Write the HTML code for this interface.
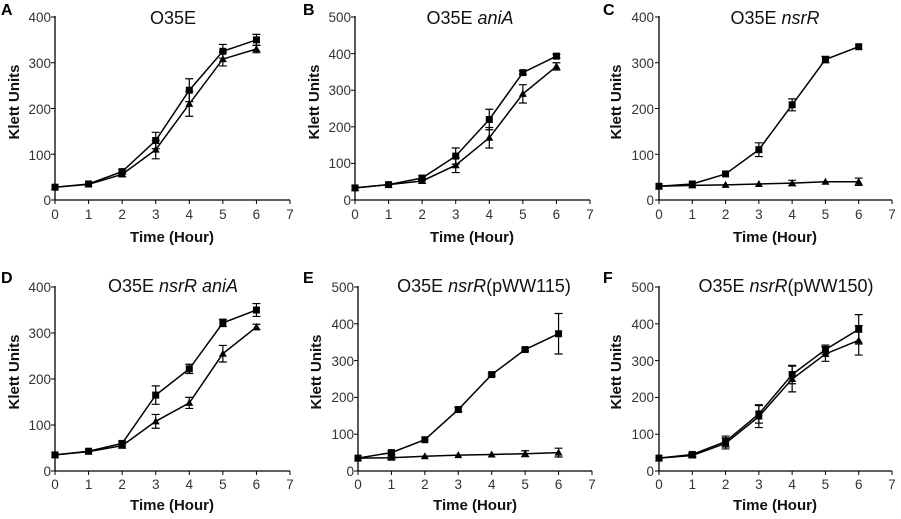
<!DOCTYPE html>
<html><head><meta charset="utf-8"><style>
body{margin:0;background:#fff;}
svg{display:block;font-family:"Liberation Sans",Arial,sans-serif;}
.t{font-size:13.5px;fill:#333;}
.tt{font-size:18px;fill:#111;}
.ax{font-size:15px;font-weight:bold;fill:#111;}
.L{font-size:16px;font-weight:bold;fill:#000;}
</style></head><body>
<svg id="s" width="901" height="519" viewBox="0 0 901 519">
<rect width="901" height="519" fill="#fff"/>
<text class="L" x="1" y="15">A</text>
<text class="L" x="303" y="15">B</text>
<text class="L" x="603" y="15">C</text>
<text class="L" x="1" y="283">D</text>
<text class="L" x="303" y="283">E</text>
<text class="L" x="603" y="283">F</text>
<text class="tt" x="173" y="24" text-anchor="middle">O35E</text>
<text class="tt" x="470" y="24" text-anchor="middle">O35E <tspan font-style="italic">aniA</tspan></text>
<text class="tt" x="775" y="24" text-anchor="middle">O35E <tspan font-style="italic">nsrR</tspan></text>
<text class="tt" x="173" y="292" text-anchor="middle">O35E <tspan font-style="italic">nsrR aniA</tspan></text>
<text class="tt" x="484" y="292" text-anchor="middle">O35E <tspan font-style="italic">nsrR</tspan>(pWW115)</text>
<text class="tt" x="786" y="292" text-anchor="middle">O35E <tspan font-style="italic">nsrR</tspan>(pWW150)</text>
<text class="ax" x="172" y="242" text-anchor="middle">Time (Hour)</text>
<text class="ax" x="472" y="242" text-anchor="middle">Time (Hour)</text>
<text class="ax" x="775" y="242" text-anchor="middle">Time (Hour)</text>
<text class="ax" x="172" y="510" text-anchor="middle">Time (Hour)</text>
<text class="ax" x="475" y="510" text-anchor="middle">Time (Hour)</text>
<text class="ax" x="775" y="510" text-anchor="middle">Time (Hour)</text>
<text class="ax" transform="translate(19,102) rotate(-90)" text-anchor="middle">Klett Units</text>
<text class="ax" transform="translate(319,102) rotate(-90)" text-anchor="middle">Klett Units</text>
<text class="ax" transform="translate(621,102) rotate(-90)" text-anchor="middle">Klett Units</text>
<text class="ax" transform="translate(19,372) rotate(-90)" text-anchor="middle">Klett Units</text>
<text class="ax" transform="translate(321,372) rotate(-90)" text-anchor="middle">Klett Units</text>
<text class="ax" transform="translate(621,372) rotate(-90)" text-anchor="middle">Klett Units</text>
<g class="t" text-anchor="end">
<text x="51" y="22">400</text><text x="51" y="68">300</text><text x="51" y="114">200</text><text x="51" y="160">100</text><text x="51" y="205">0</text>
<text x="351" y="22">500</text><text x="351" y="59">400</text><text x="351" y="95">300</text><text x="351" y="132">200</text><text x="351" y="168">100</text><text x="351" y="205">0</text>
<text x="654" y="22">400</text><text x="654" y="68">300</text><text x="654" y="114">200</text><text x="654" y="160">100</text><text x="654" y="205">0</text>
<text x="51" y="292">400</text><text x="51" y="338">300</text><text x="51" y="384">200</text><text x="51" y="430">100</text><text x="51" y="476">0</text>
<text x="354" y="292">500</text><text x="354" y="329">400</text><text x="354" y="366">300</text><text x="354" y="402">200</text><text x="354" y="439">100</text><text x="354" y="476">0</text>
<text x="654" y="292">500</text><text x="654" y="329">400</text><text x="654" y="366">300</text><text x="654" y="402">200</text><text x="654" y="439">100</text><text x="654" y="476">0</text>
</g>
<g class="t" text-anchor="middle">
<text x="55" y="219">0</text><text x="88.6" y="219">1</text><text x="122.1" y="219">2</text><text x="155.7" y="219">3</text><text x="189.3" y="219">4</text><text x="222.9" y="219">5</text><text x="256.4" y="219">6</text><text x="290" y="219">7</text>
<text x="355" y="219">0</text><text x="388.6" y="219">1</text><text x="422.1" y="219">2</text><text x="455.7" y="219">3</text><text x="489.3" y="219">4</text><text x="522.9" y="219">5</text><text x="556.4" y="219">6</text><text x="590" y="219">7</text>
<text x="659" y="219">0</text><text x="692.3" y="219">1</text><text x="725.6" y="219">2</text><text x="758.9" y="219">3</text><text x="792.1" y="219">4</text><text x="825.4" y="219">5</text><text x="858.7" y="219">6</text><text x="892" y="219">7</text>
<text x="55" y="489">0</text><text x="88.6" y="489">1</text><text x="122.1" y="489">2</text><text x="155.7" y="489">3</text><text x="189.3" y="489">4</text><text x="222.9" y="489">5</text><text x="256.4" y="489">6</text><text x="290" y="489">7</text>
<text x="358" y="489">0</text><text x="391.4" y="489">1</text><text x="424.9" y="489">2</text><text x="458.3" y="489">3</text><text x="491.7" y="489">4</text><text x="525.1" y="489">5</text><text x="558.6" y="489">6</text><text x="592" y="489">7</text>
<text x="659" y="489">0</text><text x="692.3" y="489">1</text><text x="725.6" y="489">2</text><text x="758.9" y="489">3</text><text x="792.1" y="489">4</text><text x="825.4" y="489">5</text><text x="858.7" y="489">6</text><text x="892" y="489">7</text>
</g>
<g id="g"></g>
</svg>
<script>
var P=[
{x0:55,x7:290,yt:17,y0:200,max:400,sq:[28,35,62,130,240,325,350],se:[0,3,5,18,25,15,12],tr:[28,34,56,110,210,308,330],te:[0,3,5,20,27,15,8]},
{x0:355,x7:590,yt:17,y0:200,max:500,sq:[33,42,60,120,220,348,393],se:[0,3,6,22,28,5,5],tr:[33,42,52,95,170,290,365],te:[0,3,6,20,28,25,10]},
{x0:659,x7:892,yt:17,y0:200,max:400,sq:[30,35,57,110,208,307,335],se:[0,3,3,15,13,7,3],tr:[30,32,33,35,37,40,40],te:[0,2,2,2,6,3,8]},
{x0:55,x7:290,yt:287,y0:471,max:400,sq:[35,43,60,165,222,322,350],se:[0,3,5,20,10,8,14],tr:[35,42,55,108,148,255,313],te:[0,3,5,15,12,18,6]},
{x0:358,x7:592,yt:287,y0:471,max:500,sq:[35,50,85,167,262,330,373],se:[0,4,3,6,4,4,55],tr:[35,36,40,43,45,47,50],te:[0,4,3,3,3,8,12]},
{x0:659,x7:892,yt:287,y0:471,max:500,sq:[35,45,80,155,262,330,385],se:[0,5,15,25,25,12,40],tr:[35,42,75,148,250,318,355],te:[0,5,15,30,35,20,40]}];
var h='';
P.forEach(function(p){
 var sx=function(i){return p.x0+(p.x7-p.x0)*i/7},sy=function(v){return p.y0-(p.y0-p.yt)*v/p.max};
 h+='<line x1="'+p.x0+'" y1="'+(p.yt-1)+'" x2="'+p.x0+'" y2="'+p.y0+'" stroke="#000" stroke-width="1.3"/>';
 h+='<line x1="'+p.x0+'" y1="'+p.y0+'" x2="'+p.x7+'" y2="'+p.y0+'" stroke="#000" stroke-width="1.3"/>';
 for(var i=0;i<=7;i++)h+='<line x1="'+sx(i)+'" y1="'+p.y0+'" x2="'+sx(i)+'" y2="'+(p.y0+4)+'" stroke="#000"/>';
 var st=p.max/100;for(var j=0;j<=st;j++){var y=sy(j*100);h+='<line x1="'+(p.x0-4)+'" y1="'+y+'" x2="'+p.x0+'" y2="'+y+'" stroke="#000"/>';}
 [['tr','te'],['sq','se']].forEach(function(k){
  var d=p[k[0]],e=p[k[1]],pts=d.map(function(v,i){return sx(i)+','+sy(v)}).join(' ');
  h+='<polyline points="'+pts+'" fill="none" stroke="#000" stroke-width="1.5"/>';
  d.forEach(function(v,i){var x=sx(i),y=sy(v);
   if(e[i]>3){var a=sy(v+e[i]),b=sy(v-e[i]);h+='<path d="M'+x+' '+a+'V'+b+'M'+(x-4)+' '+a+'H'+(x+4)+'M'+(x-4)+' '+b+'H'+(x+4)+'" stroke="#000" stroke-width="1.2" fill="none"/>';}
   if(k[0]=='sq')h+='<rect x="'+(x-3.5)+'" y="'+(y-3.5)+'" width="7" height="7" fill="#000"/>';
   else h+='<polygon points="'+x+','+(y-4)+' '+(x-4)+','+(y+3)+' '+(x+4)+','+(y+3)+'" fill="#000"/>';
  });
 });
});
document.getElementById('g').innerHTML=h;
</script>
</body></html>
